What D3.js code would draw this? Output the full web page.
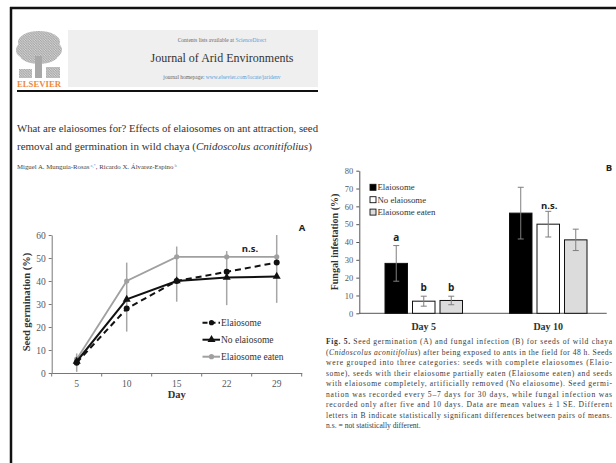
<!DOCTYPE html>
<html><head><meta charset="utf-8">
<script src="https://cdn.jsdelivr.net/npm/d3@7"></script>
<style>body{margin:0;background:#fff}svg{display:block}</style>
</head><body>
<svg id="c" width="616" height="463"></svg>
<script>
// ---------- DATA ----------
const days = ["5", "10", "15", "22", "29"];
const seriesA = ["Elaiosome", "No elaiosome", "Elaiosome eaten"];
const germElaiosome = [4.5, 28, 40, 44, 48];
const germNoElaiosome = [5, 32, 40, 41.5, 42];
const germEaten = [6, 40, 50.5, 50.5, 50.5];
const errLowA = [0.5, 18, 31, 29.5, 30.5];
const errHighA = [8.5, 48, 55, 53, 60];
const ticksA = [0, 10, 20, 30, 40, 50, 60];

const groupsB = ["Day 5", "Day 10"];
const seriesB = ["Elaiosome", "No elaiosome", "Elaiosome eaten"];
const fungElaiosome = [28, 56.2];
const fungNoElaiosome = [6.8, 50];
const fungEaten = [7.2, 41.2];
const seElaiosome = [10, 14.5];
const seNoElaiosome = [2.8, 7.2];
const seEaten = [2.4, 6];
const lettersB = [["a", "b", "b"], ["", "", ""]];
const ticksB = [0, 10, 20, 30, 40, 50, 60, 70, 80];

const titleLines = [
  "What are elaiosomes for? Effects of elaiosomes on ant attraction, seed",
  "removal and germination in wild chaya (Cnidoscolus aconitifolius)"
];
const captionLines = [
  "Seed germination (A) and fungal infection (B) for seeds of wild chaya",
  "(Cnidoscolus aconitifolius) after being exposed to ants in the field for 48 h. Seeds",
  "were grouped into three categories: seeds with complete elaiosomes (Elaio-",
  "some), seeds with their elaiosome partially eaten (Elaiosome eaten) and seeds",
  "with elaiosome completely, artificially removed (No elaiosome). Seed germi-",
  "nation was recorded every 5–7 days for 30 days, while fungal infection was",
  "recorded only after five and 10 days. Data are mean values ± 1 SE. Different",
  "letters in B indicate statistically significant differences between pairs of means.",
  "n.s. = not statistically different."
];

// ---------- PAGE ----------
const svg = d3.select("#c");
const SERIF = "'Liberation Serif','DejaVu Serif',serif";
const SANS = "'Open Sans','Liberation Sans',sans-serif";

// frame
svg.append("line").attr("x1", 11).attr("x2", 11).attr("y1", 7).attr("y2", 463).attr("stroke", "#111").attr("stroke-width", 2.5);
svg.append("line").attr("x1", 10).attr("x2", 616).attr("y1", 8).attr("y2", 8).attr("stroke", "#111").attr("stroke-width", 2.5);

// logo (engraved tree) approximation with a hatch pattern
const defs = svg.append("defs");
const pat = defs.append("pattern").attr("id", "hatch").attr("width", 2.5).attr("height", 2.5).attr("patternUnits", "userSpaceOnUse");
pat.append("rect").attr("width", 2.5).attr("height", 2.5).attr("fill", "#d4d4d4");
pat.append("path").attr("d", "M0,0 L2.5,2.5").attr("stroke", "#9c9c9c").attr("stroke-width", 0.9);
const logo = svg.append("g");
[[39, 42, 21, 11], [27, 50, 11, 9], [51, 50, 11, 9], [39, 55, 19, 9]].forEach(e => {
  logo.append("ellipse").attr("cx", e[0]).attr("cy", e[1]).attr("rx", e[2]).attr("ry", e[3]).attr("fill", "url(#hatch)");
});
logo.append("rect").attr("x", 35).attr("y", 56).attr("width", 7).attr("height", 22).attr("fill", "#a8a8a8");
logo.append("rect").attr("x", 19).attr("y", 69).attr("width", 13).attr("height", 9).attr("fill", "url(#hatch)");
logo.append("rect").attr("x", 46).attr("y", 67).attr("width", 14).attr("height", 11).attr("fill", "url(#hatch)");
logo.append("text").attr("x", 17).attr("y", 87).attr("font-family", SERIF).attr("font-size", 8).attr("font-weight", "bold")
  .attr("fill", "#ee8a3a").attr("textLength", 44).attr("lengthAdjust", "spacingAndGlyphs").text("ELSEVIER");

// banner
svg.append("rect").attr("x", 68).attr("y", 30).attr("width", 250).attr("height", 57).attr("fill", "#efefef");
const b1 = svg.append("text").attr("x", 222).attr("y", 42).attr("text-anchor", "middle").attr("font-family", SERIF).attr("font-size", 5.5).attr("fill", "#666");
b1.append("tspan").text("Contents lists available at ");
b1.append("tspan").attr("fill", "#5aa0d8").text("ScienceDirect");
svg.append("text").attr("x", 222).attr("y", 62).attr("text-anchor", "middle").attr("font-family", SERIF).attr("font-size", 12).attr("fill", "#333").text("Journal of Arid Environments");
const b3 = svg.append("text").attr("x", 222).attr("y", 79).attr("text-anchor", "middle").attr("font-family", SERIF).attr("font-size", 5.5).attr("fill", "#666");
b3.append("tspan").text("journal homepage: ");
b3.append("tspan").attr("fill", "#5aa0d8").text("www.elsevier.com/locate/jaridenv");
svg.append("line").attr("x1", 17).attr("x2", 318).attr("y1", 91).attr("y2", 91).attr("stroke", "#111").attr("stroke-width", 2);

// title
svg.append("text").attr("x", 17).attr("y", 132).attr("font-family", SERIF).attr("font-size", 11).attr("fill", "#333")
  .attr("textLength", 301).attr("lengthAdjust", "spacingAndGlyphs").text(titleLines[0]);
const t2 = svg.append("text").attr("x", 17).attr("y", 150).attr("font-family", SERIF).attr("font-size", 11).attr("fill", "#333");
const parts2 = titleLines[1].split("(");
t2.append("tspan").text(parts2[0] + "(");
t2.append("tspan").attr("font-style", "italic").text(parts2[1].replace(")", ""));
t2.append("tspan").text(")");

// authors
const au = svg.append("text").attr("x", 17).attr("y", 169).attr("font-family", SERIF).attr("font-size", 6.8).attr("fill", "#444");
au.append("tspan").text("Miguel A. Munguía-Rosas");
au.append("tspan").attr("fill", "#5aa0d8").attr("font-size", 4.5).attr("dy", -2.5).text(" a,*");
au.append("tspan").attr("dy", 2.5).text(", Ricardo X. Álvarez-Espino");
au.append("tspan").attr("fill", "#5aa0d8").attr("font-size", 4.5).attr("dy", -2.5).text(" b");

// ---------- CHART A ----------
const xA = d3.scaleBand().domain(days).range([51.7, 301.7]);
const yA = d3.scaleLinear().domain([0, 60]).range([373, 235]);
const cx = d => xA(d) + xA.bandwidth() / 2;
const gA = svg.append("g");

const axYA = gA.append("g").attr("transform", "translate(51.7,0)")
  .call(d3.axisLeft(yA).tickValues(ticksA).tickSize(3).tickSizeOuter(0).tickPadding(3));
axYA.selectAll("text").attr("font-family", SERIF).attr("font-size", 9.5).attr("fill", "#595959");
axYA.selectAll("line,path").attr("stroke", "#777");

const axXA = gA.append("g").attr("transform", "translate(0,373)")
  .call(d3.axisBottom(xA).tickSize(0).tickSizeOuter(0).tickPadding(7));
axXA.selectAll("text").attr("font-family", SERIF).attr("font-size", 9.5).attr("fill", "#595959");
axXA.select("path").attr("stroke", "#777");
d3.range(days.length + 1).forEach(i => {
  const x = xA.range()[0] + i * xA.step();
  gA.append("line").attr("x1", x).attr("x2", x).attr("y1", 373).attr("y2", 376.5).attr("stroke", "#777");
});

gA.append("text").attr("x", (xA.range()[0] + xA.range()[1]) / 2).attr("y", 398).attr("text-anchor", "middle")
  .attr("font-family", SERIF).attr("font-weight", "bold").attr("font-size", 10.5).attr("fill", "#333").text("Day");
gA.append("text").attr("transform", "translate(30,302) rotate(-90)").attr("text-anchor", "middle")
  .attr("font-family", SERIF).attr("font-weight", "bold").attr("font-size", 10.5).attr("fill", "#333").text("Seed germination (%)");

// error bars
days.forEach((d, i) => {
  gA.append("line").attr("x1", cx(d)).attr("x2", cx(d)).attr("y1", yA(errLowA[i])).attr("y2", yA(errHighA[i]))
    .attr("stroke", "#a6a6a6").attr("stroke-width", 1.5);
});

const line = d3.line().x((v, i) => cx(days[i])).y(v => yA(v));
gA.append("path").attr("d", line(germEaten)).attr("fill", "none").attr("stroke", "#a0a0a0").attr("stroke-width", 1.8);
germEaten.forEach((v, i) => gA.append("circle").attr("cx", cx(days[i])).attr("cy", yA(v)).attr("r", 2.6).attr("fill", "#a0a0a0"));
gA.append("path").attr("d", line(germNoElaiosome)).attr("fill", "none").attr("stroke", "#111").attr("stroke-width", 2);
const tri = d3.symbol().type(d3.symbolTriangle).size(28);
germNoElaiosome.forEach((v, i) => gA.append("path").attr("d", tri()).attr("transform", `translate(${cx(days[i])},${yA(v)})`).attr("fill", "#111"));
gA.append("path").attr("d", line(germElaiosome)).attr("fill", "none").attr("stroke", "#111").attr("stroke-width", 2).attr("stroke-dasharray", "6,4");
germElaiosome.forEach((v, i) => gA.append("circle").attr("cx", cx(days[i])).attr("cy", yA(v)).attr("r", 3).attr("fill", "#111"));

// legend A
const legA = [
  { name: seriesA[0], stroke: "#111", dash: "5,3", mark: "circle", col: "#111" },
  { name: seriesA[1], stroke: "#111", dash: null, mark: "tri", col: "#111" },
  { name: seriesA[2], stroke: "#a0a0a0", dash: null, mark: "circle", col: "#a0a0a0" }
];
legA.forEach((l, i) => {
  const y = 322.7 + i * 17;
  const ln = gA.append("line").attr("x1", 202.5).attr("x2", 220).attr("y1", y).attr("y2", y).attr("stroke", l.stroke).attr("stroke-width", 2);
  if (l.dash) ln.attr("stroke-dasharray", l.dash);
  if (l.mark === "circle") gA.append("circle").attr("cx", 211.5).attr("cy", y).attr("r", 2.6).attr("fill", l.col);
  else gA.append("path").attr("d", tri()).attr("transform", `translate(211.5,${y})`).attr("fill", l.col);
  gA.append("text").attr("x", 221).attr("y", y + 3.2).attr("font-family", SERIF).attr("font-size", 9.5).attr("fill", "#333").text(l.name);
});
gA.append("text").attr("x", 250).attr("y", 251.5).attr("text-anchor", "middle").attr("font-family", SANS).attr("font-weight", "bold").attr("font-size", 9.5).attr("fill", "#222").text("n.s.");
gA.append("text").attr("x", 302).attr("y", 231).attr("text-anchor", "middle").attr("font-family", SANS).attr("font-weight", "bold").attr("font-size", 9.5).attr("fill", "#222").text("A");

// ---------- CHART B ----------
const x0 = d3.scaleBand().domain(groupsB).range([361.5, 610.5]);
const x1 = d3.scaleBand().domain(seriesB).range([-38.75, 38.75]).paddingInner(0.182);
const yB = d3.scaleLinear().domain([0, 80]).range([313.3, 170.7]);
const gB = svg.append("g");
const fillsB = ["#000", "#fff", "#dcdcdc"];
const valsB = [fungElaiosome, fungNoElaiosome, fungEaten];
const seB = [seElaiosome, seNoElaiosome, seEaten];

const axYB = gB.append("g").attr("transform", "translate(359.3,0)")
  .call(d3.axisLeft(yB).tickValues(ticksB).tickSize(3).tickSizeOuter(0).tickPadding(3));
axYB.selectAll("text").attr("font-family", SERIF).attr("font-size", 8.5).attr("fill", "#595959");
axYB.selectAll("line,path").attr("stroke", "#555");
gB.append("line").attr("x1", 359.3).attr("x2", 606.7).attr("y1", yB(0)).attr("y2", yB(0)).attr("stroke", "#555");

groupsB.forEach((g, gi) => {
  const gc = x0(g) + x0.bandwidth() / 2;
  seriesB.forEach((s, si) => {
    const x = gc + x1(s);
    const v = valsB[si][gi];
    gB.append("rect").attr("x", x).attr("y", yB(v)).attr("width", x1.bandwidth()).attr("height", yB(0) - yB(v))
      .attr("fill", fillsB[si]).attr("stroke", "#111").attr("stroke-width", 1);
    const mx = x + x1.bandwidth() / 2;
    const lo = v - seB[si][gi], hi = v + seB[si][gi];
    gB.append("line").attr("x1", mx).attr("x2", mx).attr("y1", yB(lo)).attr("y2", yB(hi)).attr("stroke", "#7f7f7f").attr("stroke-width", 1);
    [lo, hi].forEach(e => gB.append("line").attr("x1", mx - 3).attr("x2", mx + 3).attr("y1", yB(e)).attr("y2", yB(e)).attr("stroke", "#7f7f7f").attr("stroke-width", 1));
    const lt = lettersB[gi][si];
    if (lt) gB.append("text").attr("x", mx).attr("y", yB(hi) - 5).attr("text-anchor", "middle").attr("font-family", SANS)
      .attr("font-weight", "bold").attr("font-size", 10).attr("fill", "#222").text(lt);
  });
  gB.append("text").attr("x", gc).attr("y", 330).attr("text-anchor", "middle").attr("font-family", SERIF).attr("font-weight", "bold")
    .attr("font-size", 10).attr("fill", "#333").text(g);
});
gB.append("text").attr("x", x0(groupsB[1]) + x0.bandwidth() / 2 + 1).attr("y", 208.5).attr("text-anchor", "middle").attr("font-family", SANS)
  .attr("font-weight", "bold").attr("font-size", 9.5).attr("fill", "#222").text("n.s.");
gB.append("text").attr("x", 609).attr("y", 171).attr("text-anchor", "middle").attr("font-family", SANS)
  .attr("font-weight", "bold").attr("font-size", 9.5).attr("fill", "#222").text("B");
gB.append("text").attr("transform", "translate(338,242) rotate(-90)").attr("text-anchor", "middle")
  .attr("font-family", SERIF).attr("font-weight", "bold").attr("font-size", 10).attr("fill", "#333").text("Fungal infestation (%)");

// legend B
seriesB.forEach((s, i) => {
  const y = 187.3 + i * 12.4;
  gB.append("rect").attr("x", 370).attr("y", y - 3).attr("width", 6).attr("height", 6).attr("fill", fillsB[i]).attr("stroke", "#111").attr("stroke-width", 0.9);
  gB.append("text").attr("x", 377.5).attr("y", y + 3).attr("font-family", SERIF).attr("font-size", 8.8).attr("fill", "#333").text(s);
});

// ---------- CAPTION ----------
captionLines.forEach((c, i) => {
  const y = 344 + i * 10.5;
  const t = svg.append("text").attr("x", 326).attr("y", y).attr("font-family", SERIF).attr("font-size", 7.6).attr("fill", "#3a3a3a");
  if (i < captionLines.length - 1) t.attr("textLength", 286).attr("lengthAdjust", "spacing");
  if (i === 0) {
    t.append("tspan").attr("font-weight", "bold").attr("fill", "#333").text("Fig. 5. ");
    t.append("tspan").text(c);
  } else if (i === 1) {
    const k = c.indexOf(")");
    t.append("tspan").text("(");
    t.append("tspan").attr("font-style", "italic").text(c.slice(1, k));
    t.append("tspan").text(c.slice(k));
  } else {
    t.text(c);
  }
});
</script>
</body></html>
